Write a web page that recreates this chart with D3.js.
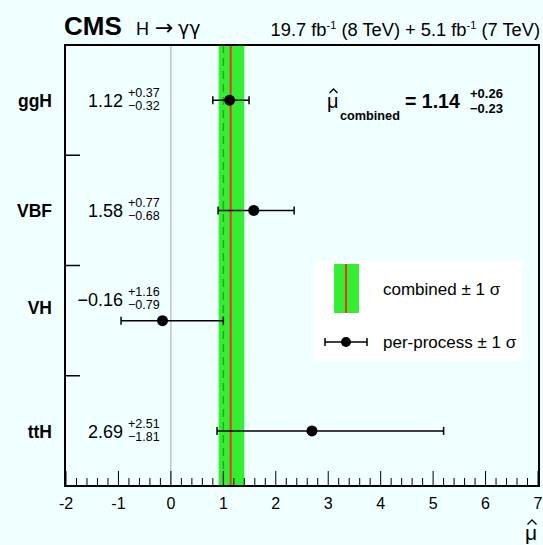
<!DOCTYPE html>
<html>
<head>
<meta charset="utf-8">
<script src="https://cdn.jsdelivr.net/npm/d3@7"></script>
<style>
  body { margin: 0; background: #f0ffff; }
  svg { font-family: "Liberation Sans", Arial, sans-serif; }
</style>
</head>
<body>
<div id="chart"></div>
<script>
// per-process signal strengths
var processes = ["ggH", "VBF", "VH", "ttH"];
var muValues = [1.12, 1.58, -0.16, 2.69];
var errUp = [0.37, 0.77, 1.16, 2.51];
var errDown = [0.32, 0.68, 0.79, 1.81];

// combined result
var muCombined = 1.14;
var combUp = 0.26;
var combDown = 0.23;
var smValue = 1;

var xTicks = [-2, -1, 0, 1, 2, 3, 4, 5, 6, 7];

function init() {
    var w = 543;
    var h = 545;
    var left = 65, right = 539, top = 45, bottom = 486;

    var svg = d3.select("#chart")
        .append("svg")
        .attr("width", w)
        .attr("height", h);

    var xScale = d3.scaleLinear()
        .domain([-2, 7])
        .range([left + 1, right - 1]);

    var yScale = d3.scaleBand()
        .domain(processes)
        .range([top, bottom]);

    function yMid(d) { return yScale(d.name) + yScale.bandwidth() / 2; }

    var rows = processes.map(function(p, i) {
        return { name: p, mu: muValues[i], up: errUp[i], down: errDown[i] };
    });

    // little hat for mu-hat
    function hat(g, cx, ty, hw) {
        g.append("path")
            .attr("d", "M" + (cx - hw) + "," + (ty + hw) + "L" + cx + "," + ty + "L" + (cx + hw) + "," + (ty + hw))
            .attr("fill", "none")
            .attr("stroke", "#000")
            .attr("stroke-width", 1.3);
    }

    // combined band
    svg.append("rect")
        .attr("x", xScale(muCombined - combDown))
        .attr("y", top)
        .attr("width", xScale(muCombined + combUp) - xScale(muCombined - combDown))
        .attr("height", bottom - top)
        .attr("fill", "#33ee33");

    // SM line
    svg.append("line")
        .attr("x1", xScale(smValue)).attr("x2", xScale(smValue))
        .attr("y1", top).attr("y2", bottom)
        .attr("stroke", "#22aa22")
        .attr("stroke-width", 1.5)
        .attr("stroke-dasharray", "8,5");

    // combined central value
    svg.append("line")
        .attr("x1", xScale(muCombined)).attr("x2", xScale(muCombined))
        .attr("y1", top).attr("y2", bottom)
        .attr("stroke", "#ee3322")
        .attr("stroke-width", 2);

    // zero line
    svg.append("line")
        .attr("x1", xScale(0)).attr("x2", xScale(0))
        .attr("y1", top).attr("y2", bottom)
        .attr("stroke", "#aaaaaa")
        .attr("stroke-width", 1);

    // legend box
    var lg = svg.append("g");
    lg.append("rect")
        .attr("x", 315).attr("y", 261)
        .attr("width", 207).attr("height", 100)
        .attr("fill", "#ffffff");
    lg.append("rect")
        .attr("x", 334).attr("y", 264)
        .attr("width", 25).attr("height", 49)
        .attr("fill", "#33ee33");
    lg.append("line")
        .attr("x1", 346).attr("x2", 346)
        .attr("y1", 264).attr("y2", 313)
        .attr("stroke", "#ee3322").attr("stroke-width", 2);
    lg.append("text")
        .attr("x", 383).attr("y", 295)
        .attr("font-size", 17)
        .text("combined ± 1 σ");
    lg.append("line")
        .attr("x1", 325).attr("x2", 367)
        .attr("y1", 342).attr("y2", 342)
        .attr("stroke", "#000").attr("stroke-width", 1.5);
    [325, 367].forEach(function(cx) {
        lg.append("line")
            .attr("x1", cx).attr("x2", cx)
            .attr("y1", 338).attr("y2", 346)
            .attr("stroke", "#000").attr("stroke-width", 1.5);
    });
    lg.append("circle")
        .attr("cx", 346).attr("cy", 342).attr("r", 5)
        .attr("fill", "#000");
    lg.append("text")
        .attr("x", 383).attr("y", 348)
        .attr("font-size", 17)
        .text("per-process ± 1 σ");

    // error bars
    var rowG = svg.selectAll(".row")
        .data(rows)
        .enter()
        .append("g")
        .attr("class", "row");

    rowG.append("line")
        .attr("x1", function(d) { return xScale(d.mu - d.down); })
        .attr("x2", function(d) { return xScale(d.mu + d.up); })
        .attr("y1", yMid)
        .attr("y2", yMid)
        .attr("stroke", "#000")
        .attr("stroke-width", 1.5);

    rowG.append("line")
        .attr("x1", function(d) { return xScale(d.mu - d.down); })
        .attr("x2", function(d) { return xScale(d.mu - d.down); })
        .attr("y1", function(d) { return yMid(d) - 4; })
        .attr("y2", function(d) { return yMid(d) + 4; })
        .attr("stroke", "#000")
        .attr("stroke-width", 1.5);

    rowG.append("line")
        .attr("x1", function(d) { return xScale(d.mu + d.up); })
        .attr("x2", function(d) { return xScale(d.mu + d.up); })
        .attr("y1", function(d) { return yMid(d) - 4; })
        .attr("y2", function(d) { return yMid(d) + 4; })
        .attr("stroke", "#000")
        .attr("stroke-width", 1.5);

    rowG.append("circle")
        .attr("cx", function(d) { return xScale(d.mu); })
        .attr("cy", yMid)
        .attr("r", 5.5)
        .attr("fill", "#000");

    // text labels (VH row is moved up so it clears the error bar)
    function labelShift(d) { return d.name === "VH" ? -14 : 0; }
    function valueShift(d) { return d.name === "VH" ? -22 : 0; }
    function fmt(v) { return (v < 0 ? "\u2212" : "") + Math.abs(v).toFixed(2); }

    rowG.append("text")
        .attr("x", 52)
        .attr("y", function(d) { return yMid(d) + 7 + labelShift(d); })
        .attr("text-anchor", "end")
        .attr("font-weight", "bold")
        .attr("font-size", 17.5)
        .text(function(d) { return d.name; });

    rowG.append("text")
        .attr("x", 123)
        .attr("y", function(d) { return yMid(d) + 7 + valueShift(d); })
        .attr("text-anchor", "end")
        .attr("font-size", 18)
        .text(function(d) { return fmt(d.mu); });

    rowG.append("text")
        .attr("x", 128)
        .attr("y", function(d) { return yMid(d) - 3 + valueShift(d); })
        .attr("font-size", 12.5)
        .text(function(d) { return "+" + d.up.toFixed(2); });

    rowG.append("text")
        .attr("x", 128)
        .attr("y", function(d) { return yMid(d) + 10 + valueShift(d); })
        .attr("font-size", 12.5)
        .text(function(d) { return "\u2212" + d.down.toFixed(2); });

    // combined result text
    var ct = svg.append("g");
    ct.append("text")
        .attr("x", 327).attr("y", 108)
        .attr("font-size", 20)
        .text("\u03BC");
    hat(ct, 333.5, 89, 4);
    ct.append("text")
        .attr("x", 340).attr("y", 120)
        .attr("font-size", 12.7)
        .attr("font-weight", "bold")
        .text("combined");
    ct.append("text")
        .attr("x", 405).attr("y", 108)
        .attr("font-size", 19.5)
        .attr("font-weight", "bold")
        .text("= " + muCombined.toFixed(2));
    ct.append("text")
        .attr("x", 470).attr("y", 98)
        .attr("font-size", 13)
        .attr("font-weight", "bold")
        .text("+" + combUp.toFixed(2));
    ct.append("text")
        .attr("x", 470).attr("y", 113)
        .attr("font-size", 13)
        .attr("font-weight", "bold")
        .text("\u2212" + combDown.toFixed(2));

    // x axis ticks
    var minorTicks = d3.range(-2, 7.001, 0.2).filter(function(t) {
        return Math.abs(t - Math.round(t)) > 0.01;
    });
    svg.selectAll(".minor")
        .data(minorTicks)
        .enter()
        .append("line")
        .attr("x1", function(d) { return xScale(d); })
        .attr("x2", function(d) { return xScale(d); })
        .attr("y1", bottom)
        .attr("y2", bottom - 8)
        .attr("stroke", "#000")
        .attr("stroke-width", 1);

    svg.selectAll(".major")
        .data(xTicks)
        .enter()
        .append("line")
        .attr("x1", function(d) { return xScale(d); })
        .attr("x2", function(d) { return xScale(d); })
        .attr("y1", bottom)
        .attr("y2", bottom - 15)
        .attr("stroke", "#000")
        .attr("stroke-width", 1);

    svg.selectAll(".xlab")
        .data(xTicks)
        .enter()
        .append("text")
        .attr("x", function(d) { return xScale(d); })
        .attr("y", 509)
        .attr("text-anchor", "middle")
        .attr("font-size", 16)
        .text(function(d) { return d; });

    // y ticks between categories
    svg.selectAll(".ytick")
        .data(processes.slice(1))
        .enter()
        .append("line")
        .attr("x1", left)
        .attr("x2", left + 15)
        .attr("y1", function(d) { return yScale(d); })
        .attr("y2", function(d) { return yScale(d); })
        .attr("stroke", "#000")
        .attr("stroke-width", 1.5);

    // frame
    svg.append("rect")
        .attr("x", left).attr("y", top)
        .attr("width", right - left).attr("height", bottom - top)
        .attr("fill", "none")
        .attr("stroke", "#000")
        .attr("stroke-width", 2);

    // axis title
    svg.append("text")
        .attr("x", 525).attr("y", 540)
        .attr("font-size", 21)
        .text("\u03BC");
    hat(svg, 532, 520, 4.5);

    // header
    svg.append("text")
        .attr("x", 64).attr("y", 35)
        .attr("font-size", 26)
        .attr("font-weight", "bold")
        .text("CMS");
    svg.append("text")
        .attr("x", 136).attr("y", 35)
        .attr("font-size", 18)
        .text("H");
    svg.append("text")
        .attr("x", 155).attr("y", 35)
        .attr("font-family", "DejaVu Sans")
        .attr("font-size", 22)
        .text("\u2192");
    svg.append("text")
        .attr("x", 178).attr("y", 35)
        .attr("font-family", "DejaVu Sans")
        .attr("font-size", 19)
        .text("\u03B3\u03B3");

    var lumi = svg.append("text")
        .attr("x", 540).attr("y", 36)
        .attr("text-anchor", "end")
        .attr("font-size", 18.3);
    lumi.append("tspan").text("19.7 fb");
    lumi.append("tspan").attr("font-size", 11).attr("dy", -7).text("-1");
    lumi.append("tspan").attr("dy", 7).text(" (8 TeV) + 5.1 fb");
    lumi.append("tspan").attr("font-size", 11).attr("dy", -7).text("-1");
    lumi.append("tspan").attr("dy", 7).text(" (7 TeV)");
}

window.onload = init;
</script>
</body>
</html>
